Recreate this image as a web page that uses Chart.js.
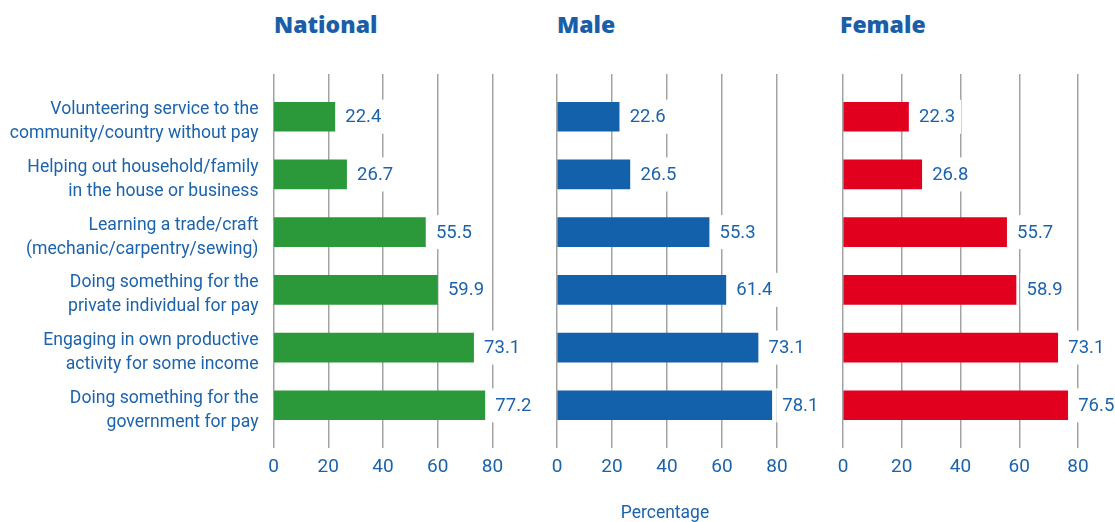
<!DOCTYPE html>
<html>
<head>
<meta charset="utf-8">
<script src="https://cdn.jsdelivr.net/npm/chart.js@4.4.1/dist/chart.umd.min.js"></script>
<style>
  html, body { margin: 0; padding: 0; background: #fff; }
  body { width: 1115px; height: 522px; position: relative; overflow: hidden; font-family: Roboto, "Open Sans", sans-serif; }
  .panel { position: absolute; top: 0; height: 522px; }
  .title { position: absolute; top: 8px; font-family: "Open Sans", Roboto, sans-serif; font-weight: 800; font-size: 23px; color: #1b5ea8; }
  .axistitle { position: absolute; top: 502px; left: 565px; width: 200px; text-align: center; font-size: 17.5px; color: #1b63ad; }
</style>
</head>
<body>
<div class="title" style="left:274px">National</div>
<div class="title" style="left:557px">Male</div>
<div class="title" style="left:840px">Female</div>
<div class="panel" style="left:0px;width:545px"><canvas id="cNational"></canvas></div>
<div class="panel" style="left:500px;width:330px"><canvas id="cMale"></canvas></div>
<div class="panel" style="left:790px;width:325px"><canvas id="cFemale"></canvas></div>
<div class="axistitle">Percentage</div>
<script>
const categories = [
  ["Volunteering service to the", "community/country without pay"],
  ["Helping out household/family", "in the house or business"],
  ["Learning a trade/craft", "(mechanic/carpentry/sewing)"],
  ["Doing something for the", "private individual for pay"],
  ["Engaging in own productive", "activity for some income"],
  ["Doing something for the", "government for pay"]
];
const nationalValues = [22.4, 26.7, 55.5, 59.9, 73.1, 77.2];
const maleValues = [22.6, 26.5, 55.3, 61.4, 73.1, 78.1];
const femaleValues = [22.3, 26.8, 55.7, 58.9, 73.1, 76.5];
const xTicks = [0, 20, 40, 60, 80];

const TEXT = '#1b63ad';
const GRID = '#a3a3a3';

const valueLabels = {
  id: 'valueLabels',
  afterDatasetsDraw(chart) {
    const ctx = chart.ctx;
    const meta = chart.getDatasetMeta(0);
    const data = chart.data.datasets[0].data;
    ctx.save();
    ctx.font = '18.5px Roboto, sans-serif';
    ctx.textBaseline = 'middle';
    ctx.textAlign = 'left';
    meta.data.forEach((bar, i) => {
      const txt = data[i].x.toFixed(1);
      const w = ctx.measureText(txt).width;
      const tx = bar.x + 10.5;
      ctx.fillStyle = '#ffffff';
      ctx.fillRect(tx - 6, bar.y - 17, w + 12, 34);
      ctx.fillStyle = TEXT;
      ctx.fillText(txt, tx, bar.y + 1);
    });
    ctx.restore();
  }
};

function makeChart(id, values, color, showY, pad) {
  const yScale = {
    type: 'linear',
    reverse: true,
    offset: false,
    min: -0.74,
    max: 5.74,
    display: showY,
    grid: { display: false, drawTicks: false, offset: false },
    border: { display: false },
    afterBuildTicks(scale) { scale.ticks = categories.map((_, i) => ({ value: i })); },
    ticks: {
      padding: 15,
      labelOffset: 5,
      color: TEXT,
      font: { family: 'Roboto', size: 17.6, lineHeight: 1.36 },
      callback: (v) => categories[v] || ''
    }
  };
  if (showY) yScale.afterFit = (scale) => { scale.width = 273.5; };
  return new Chart(document.getElementById(id), {
    type: 'bar',
    data: {
      datasets: [{
        data: values.map((v, i) => ({ x: v, y: i })),
        backgroundColor: color,
        barThickness: 29,
        borderWidth: 0
      }]
    },
    options: {
      indexAxis: 'y',
      responsive: true,
      maintainAspectRatio: false,
      animation: false,
      layout: { padding: pad },
      plugins: { legend: { display: false }, tooltip: { enabled: false } },
      scales: {
        x: {
          type: 'linear',
          min: xTicks[0],
          max: xTicks[xTicks.length - 1],
          afterBuildTicks(scale) { scale.ticks = xTicks.map(v => ({ value: v })); },
          afterFit(scale) { scale.height = 30; },
          grid: { color: GRID, lineWidth: 1.5, drawTicks: false },
          border: { display: false },
          ticks: { padding: 8, color: TEXT, font: { family: 'Roboto', size: 19 } }
        },
        y: yScale
      }
    },
    plugins: [valueLabels]
  });
}

makeChart('cNational', nationalValues, '#2b993a', true, { top: 74, bottom: 44, left: 0, right: 52.5 });
makeChart('cMale', maleValues, '#1461ab', false, { top: 74, bottom: 44, left: 57, right: 53 });
makeChart('cFemale', femaleValues, '#e2001f', false, { top: 74, bottom: 44, left: 53, right: 37 });
</script>
</body>
</html>
